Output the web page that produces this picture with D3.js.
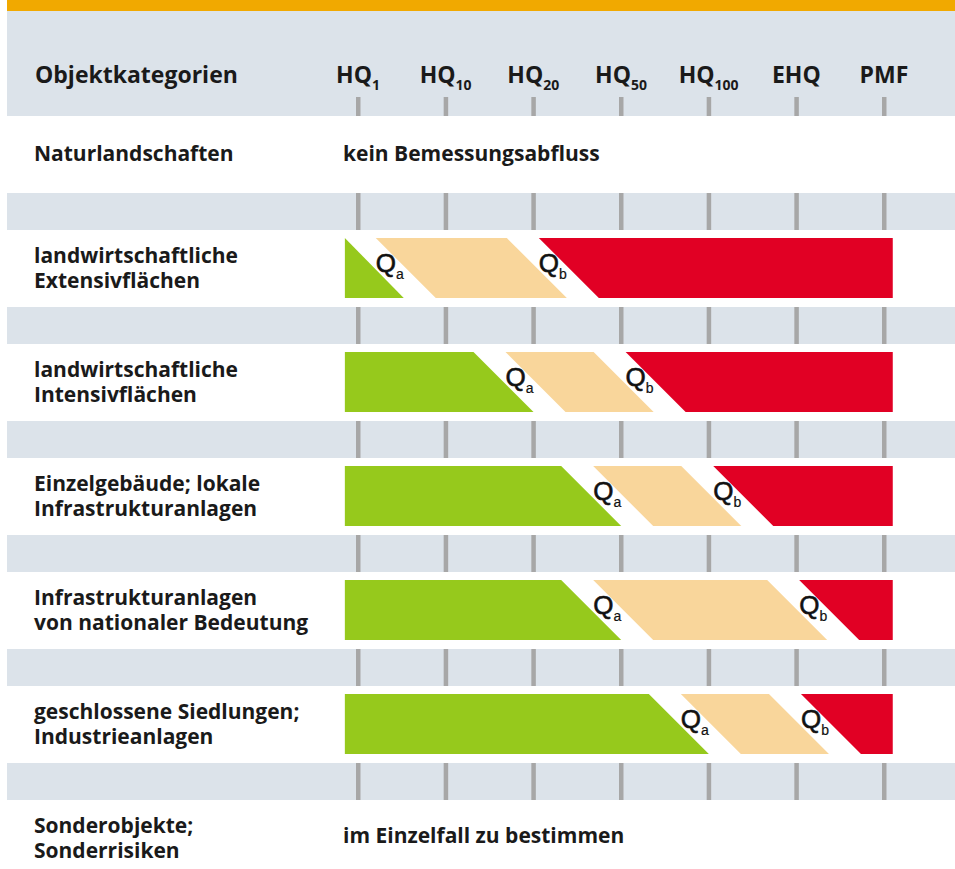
<!DOCTYPE html>
<html lang="de">
<head>
<meta charset="utf-8">
<title>Objektkategorien und Bemessungsabfluss</title>
<style>
	body {
		margin: 0;
		background: #fff;
	}
	svg {
		display: block;
		font-family: "Open Sans", sans-serif;
	}
	.label {
		font-size: 21px;
		font-weight: 700;
		fill: #1a1a1a;
	}
	.head {
		font-size: 23px;
		font-weight: 700;
		fill: #1a1a1a;
	}
	.q {
		font-family: "Liberation Sans", Arial, sans-serif;
		font-size: 26px;
		fill: #111;
		stroke: #111;
		stroke-width: 0.6px;
	}
</style>
</head>
<body>
<svg></svg>
<script src="https://d3js.org/d3.v7.min.js"></script>
<script>
	// Bemessungsabfluesse on the x axis
	var levels = ["HQ", "HQ", "HQ", "HQ", "HQ", "EHQ", "PMF"];
	var levelSub = ["1", "10", "20", "50", "100", "", ""];

	// object categories, one row each
	var categories = [
		["Naturlandschaften"],
		["landwirtschaftliche", "Extensivflächen"],
		["landwirtschaftliche", "Intensivflächen"],
		["Einzelgebäude; lokale", "Infrastrukturanlagen"],
		["Infrastrukturanlagen", "von nationaler Bedeutung"],
		["geschlossene Siedlungen;", "Industrieanlagen"],
		["Sonderobjekte;", "Sonderrisiken"]
	];
	var notes = ["kein Bemessungsabfluss", null, null, null, null, null, "im Einzelfall zu bestimmen"];

	// thresholds Qa / Qb on the axis (0 = HQ1 ... 6 = PMF)
	var qa = [null, 0.02, 1.5, 2.5, 2.5, 3.5, null];
	var qb = [null, 1.88, 2.87, 3.87, 4.85, 4.87, null];

	var width = 955,
		height = 869;

	var colors = { green: "#96c91c", beige: "#f9d69b", red: "#e10024" };

	var svg = d3.select("svg")
		.attr("width", width)
		.attr("height", height);

	var x = d3.scaleLinear().domain([0, levels.length - 1]).range([358, 884]);
	var y = d3.scaleBand().domain(d3.range(categories.length)).range([79, 877]);

	var bandH = 37,
		barOff = 45,
		barH = 60,
		gap = 16,
		x0 = x(-0.15),
		x1 = x(6.1);

	// top bar + header band
	svg.append("rect").attr("x", 7).attr("y", 0).attr("width", width - 7).attr("height", 11).attr("fill", "#f1a900");
	svg.append("rect").attr("x", 7).attr("y", 11).attr("width", width - 7).attr("height", 105).attr("fill", "#dce3ea");

	svg.append("text")
		.attr("class", "head")
		.attr("x", 35)
		.attr("y", 83)
		.text("Objektkategorien");

	var head = svg.append("g").selectAll("text")
		.data(levels)
		.enter().append("text")
		.attr("class", "head")
		.attr("text-anchor", "middle")
		.attr("x", function(d, i) { return x(i); })
		.attr("y", 83);
	head.append("tspan").text(function(d) { return d; });
	head.append("tspan")
		.attr("dy", 7)
		.style("font-size", "14px")
		.text(function(d, i) { return levelSub[i]; });

	svg.append("g").selectAll("rect")
		.data(levels)
		.enter().append("rect")
		.attr("x", function(d, i) { return x(i) - 2; })
		.attr("y", 97)
		.attr("width", 4.5)
		.attr("height", 19)
		.attr("fill", "#a7a7a7");

	// grey separator bands with ticks
	var rows = d3.range(1, categories.length);
	var bands = svg.append("g").selectAll("g")
		.data(rows)
		.enter().append("g")
		.attr("transform", function(i) { return "translate(0," + y(i) + ")"; });
	bands.append("rect")
		.attr("x", 7)
		.attr("width", width - 7)
		.attr("height", bandH)
		.attr("fill", "#dce3ea");
	bands.selectAll(".tick")
		.data(levels)
		.enter().append("rect")
		.attr("class", "tick")
		.attr("x", function(d, i) { return x(i) - 2; })
		.attr("width", 4.5)
		.attr("height", bandH)
		.attr("fill", "#a7a7a7");

	// bars: green / beige / red, cut by slanted edges at Qa and Qb
	function pts(p) {
		return p.map(function(c) { return c.join(","); }).join(" ");
	}

	var barRows = rows.filter(function(i) { return qa[i] != null; });
	var bars = svg.append("g").selectAll("g")
		.data(barRows)
		.enter().append("g");

	bars.each(function(i) {
		var g = d3.select(this);
		var top = y(i) + barOff,
			bot = top + barH,
			a = x(qa[i]),
			b = x(qb[i]);

		g.append("polygon")
			.attr("fill", colors.green)
			.attr("points", pts([[x0, top], [Math.max(a - gap, x0), top], [a - gap + barH, bot], [x0, bot]]));
		g.append("polygon")
			.attr("fill", colors.beige)
			.attr("points", pts([[a + gap, top], [b - gap, top], [b - gap + barH, bot], [a + gap + barH, bot]]));
		g.append("polygon")
			.attr("fill", colors.red)
			.attr("points", pts([[b + gap, top], [x1, top], [x1, bot], [b + gap + barH, bot]]));

		[[a, "a"], [b, "b"]].forEach(function(q) {
			var t = g.append("text")
				.attr("class", "q")
				.attr("x", q[0] + 16)
				.attr("y", top + 34);
			t.append("tspan").text("Q");
			t.append("tspan")
				.attr("dy", 7)
				.style("font-size", "14px")
				.style("stroke-width", "0.2px")
				.text(q[1]);
		});
	});

	// row labels
	var labels = svg.append("g").selectAll("text")
		.data(categories)
		.enter().append("text")
		.attr("class", "label")
		.attr("x", 34)
		.attr("y", function(d, i) {
			var c = y(i) + 75;
			return d.length > 1 ? c - 5 : c + 7;
		});
	labels.selectAll("tspan")
		.data(function(d) { return d; })
		.enter().append("tspan")
		.attr("x", 34)
		.attr("dy", function(d, j) { return j ? 25 : 0; })
		.text(function(d) { return d; });

	svg.append("g").selectAll("text")
		.data(notes.map(function(n, i) { return { n: n, i: i }; }).filter(function(d) { return d.n; }))
		.enter().append("text")
		.attr("class", "label")
		.attr("x", 343)
		.attr("y", function(d) { return y(d.i) + 75 + (d.i ? 5 : 7); })
		.text(function(d) { return d.n; });
</script>
</body>
</html>
